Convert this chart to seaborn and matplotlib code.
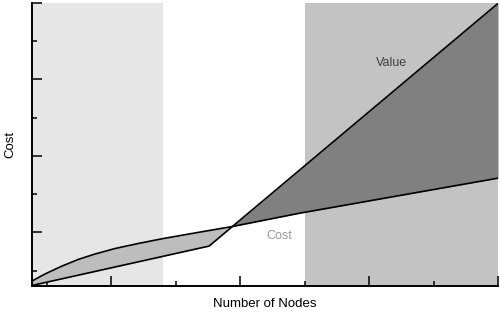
import numpy as np
import matplotlib
matplotlib.use("Agg")
import matplotlib.pyplot as plt
import seaborn as sns
import pandas as pd

# ---- data ----
cost_x = [-0.233, -0.031, 0.217, 0.481, 0.745, 1.056, 1.413, 1.801, 2.376, 2.873, 3.929, 7.0]
cost_y = [0.065, 0.157, 0.255, 0.346, 0.418, 0.490, 0.555, 0.620, 0.705, 0.777, 0.953, 1.410]
value_x = [-0.233, 2.516, 7.0]
value_y = [0.007, 0.522, 3.695]
region1 = [-0.233, 1.80]
region2 = [4.0, 7.0]
xlabel = "Number of Nodes"
ylabel = "Cost"
value_label = "Value"
cost_label = "Cost"

sns.set_style("white")
plt.rcParams['font.family'] = ['Liberation Sans', 'DejaVu Sans']

fig = plt.figure(figsize=(5.0, 3.14), dpi=100)
ax = fig.add_axes([0.064, 0.0892, 0.932, 0.9012])

ax.axvspan(region1[0], region1[1], color="#e6e6e6", lw=0, zorder=0)
ax.axvspan(region2[0], region2[1], color="#c3c3c3", lw=0, zorder=0)

# common grid for filling between the two curves
gx = np.union1d(cost_x, value_x)
gc = np.interp(gx, cost_x, cost_y)
gv = np.interp(gx, value_x, value_y)
ax.fill_between(gx, gv, gc, where=gc >= gv, interpolate=True,
                color="#bdbdbd", lw=0, zorder=1)
ax.fill_between(gx, gc, gv, where=gv >= gc, interpolate=True,
                color="#808080", lw=0, zorder=1)

df_c = pd.DataFrame({"x": cost_x, "y": cost_y})
df_v = pd.DataFrame({"x": value_x, "y": value_y})
sns.lineplot(data=df_c, x="x", y="y", ax=ax, color="black", lw=1.2,
             sort=False, zorder=3)
sns.lineplot(data=df_v, x="x", y="y", ax=ax, color="black", lw=1.2,
             sort=False, zorder=3)

ax.text(5.34, 2.91, value_label, ha="center", va="center",
        fontsize=9, color="#404040", zorder=4)
ax.text(3.60, 0.653, cost_label, ha="center", va="center",
        fontsize=9, color="#999999", zorder=4)

ax.set_xlim(-0.233, 7.0)
ax.set_ylim(0, 3.7)
ax.set_xticks([1, 3, 5, 7])
ax.set_xticks([0, 2, 4, 6], minor=True)
ax.set_yticks([0.7, 1.7, 2.7, 3.7])
ax.set_yticks([0.2, 1.2, 2.2, 3.2], minor=True)
ax.tick_params(which="both", direction="in", labelbottom=False,
               labelleft=False, color="black", width=1.1,
               bottom=True, left=True)
ax.tick_params(which="major", length=7.5)
ax.tick_params(which="minor", length=3.6)

for s in ["top", "right"]:
    ax.spines[s].set_visible(False)
for s in ["left", "bottom"]:
    ax.spines[s].set_color("black")
    ax.spines[s].set_linewidth(1.4)
    ax.spines[s].set_zorder(5)

ax.set_xlabel(xlabel, fontsize=9.5, labelpad=9, color="black")
ax.set_ylabel(ylabel, fontsize=9.5, labelpad=11, color="black")

fig.savefig("out.png", dpi=100)
